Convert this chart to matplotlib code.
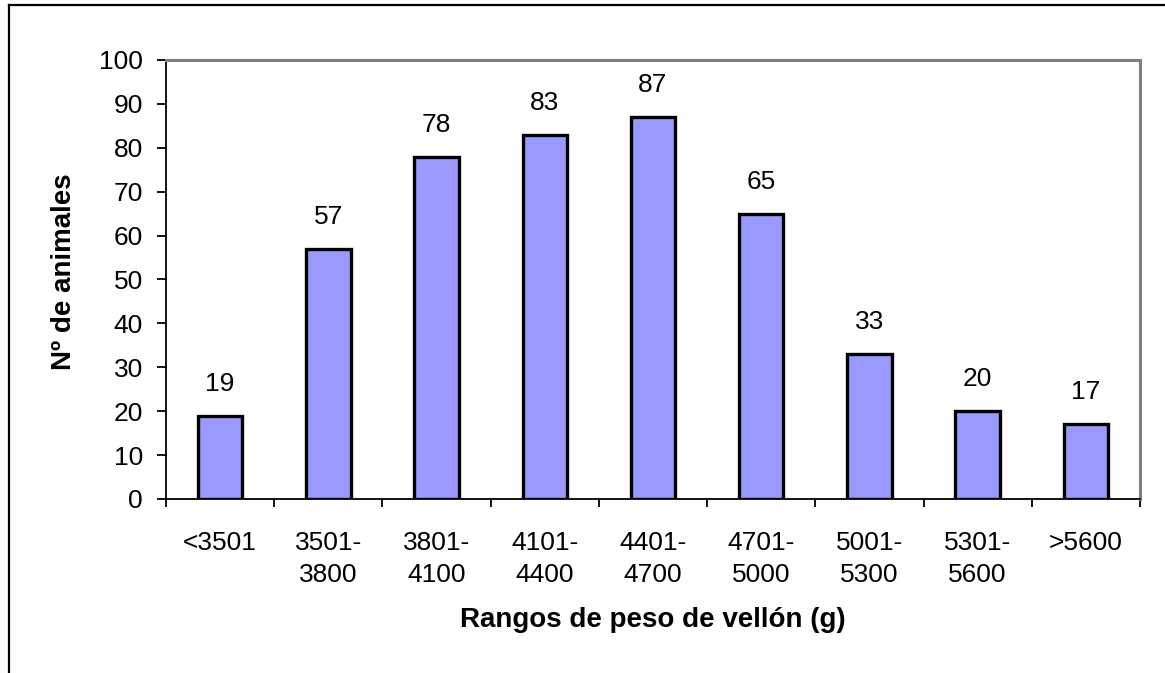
import matplotlib.pyplot as plt
from matplotlib.lines import Line2D
import numpy as np

plt.rcParams['font.family'] = ['Liberation Sans', 'DejaVu Sans']

rangos = ["<3501", "3501-\n3800", "3801-\n4100", "4101-\n4400", "4401-\n4700",
          "4701-\n5000", "5001-\n5300", "5301-\n5600", ">5600"]
animales = [19, 57, 78, 83, 87, 65, 33, 20, 17]
yticks = list(range(0, 101, 10))

W, H = 1165, 673
fig = plt.figure(figsize=(W / 100, H / 100), dpi=100)

# outer chart frame (top + left only visible)
fig.add_artist(Line2D([9 / W, 9 / W], [0, 1 - 5 / H], color='black', lw=1.6))
fig.add_artist(Line2D([9 / W, 1], [1 - 5 / H, 1 - 5 / H], color='black', lw=1.6))

ax = fig.add_axes([166 / W, (H - 499) / H, 974 / W, 439 / H])
x = np.arange(len(animales))
bars = ax.bar(x, animales, width=0.41, color='#9999ff', edgecolor='black', linewidth=2.4)

for xi, v in zip(x, animales):
    ax.annotate(str(v), (xi, v), xytext=(0, 23), textcoords='offset points',
                ha='center', va='center', fontsize=19)

ax.set_xlim(-0.5, len(animales) - 0.5)
ax.set_ylim(0, 100)
ax.set_yticks(yticks)
ax.tick_params(axis='y', direction='out', length=6.5, width=1.3, pad=10, labelsize=19)

ax.set_xticks(x)
ax.set_xticklabels(rangos, linespacing=1.4)
ax.set_xticks(np.arange(-0.5, len(animales)), minor=True)
ax.tick_params(axis='x', which='major', length=0, pad=23, labelsize=19)
ax.tick_params(axis='x', which='minor', direction='out', length=6, width=1.3)

for s in ['top', 'right']:
    ax.spines[s].set_color('#808080')
    ax.spines[s].set_linewidth(2.2)
for s in ['left', 'bottom']:
    ax.spines[s].set_color('black')
    ax.spines[s].set_linewidth(1.3)

fig.text(653 / W, 1 - 620 / H, "Rangos de peso de vellón (g)", ha='center', va='center',
         fontsize=20, fontweight='bold')
fig.text(64 / W, 1 - 272 / H, "Nº de animales", ha='center', va='center',
         rotation=90, fontsize=20, fontweight='bold')

fig.savefig('out.png', dpi=100)
